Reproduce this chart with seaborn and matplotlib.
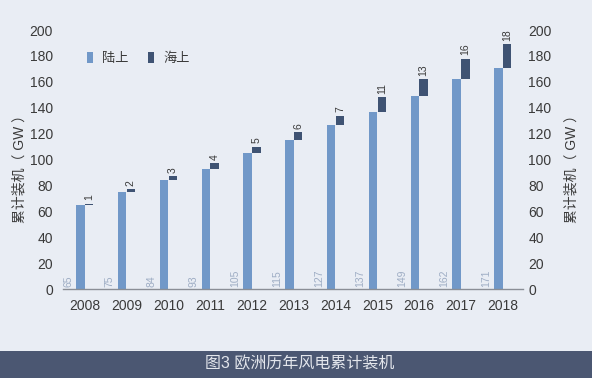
import numpy as np
import pandas as pd
import matplotlib
matplotlib.use("Agg")
import matplotlib.pyplot as plt
from matplotlib.patches import Patch, Rectangle
import seaborn as sns

years = [2008, 2009, 2010, 2011, 2012, 2013, 2014, 2015, 2016, 2017, 2018]
onshore = [65, 75, 84, 93, 105, 115, 127, 137, 149, 162, 171]
offshore = [1, 2, 3, 4, 5, 6, 7, 11, 13, 16, 18]
yticks = [0, 20, 40, 60, 80, 100, 120, 140, 160, 180, 200]
legend_labels = ["陆上", "海上"]
ylabel = "累计装机（ GW ）"
caption = "图3 欧洲历年风电累计装机"

BG = "#e9edf4"
ON = "#7198c8"
OFF = "#3f5373"
TXT = "#3a3a3a"

sns.set_theme(style="white")
plt.rcParams["font.family"] = ["Liberation Sans", "Noto Sans CJK SC", "DejaVu Sans"]

fig = plt.figure(figsize=(5.92, 3.78), dpi=100, facecolor=BG)
ax = fig.add_axes([0.106, 0.2354, 0.777, 0.685])
ax.set_facecolor(BG)

yr = np.array(years, dtype=float)
df_on = pd.DataFrame({"x": yr - 0.105, "value": onshore})
sns.barplot(data=df_on, x="x", y="value", native_scale=True, color=ON,
            width=0.2, saturation=1, ax=ax, linewidth=0)
ax.bar(yr + 0.105, offshore, bottom=onshore, width=0.2, color=OFF, linewidth=0)

ax.set_xlim(years[0] - 0.526, years[-1] + 0.478)
ax.set_ylim(0, 200)
ax.set_xticks(years)
ax.set_xticklabels([str(y) for y in years], fontsize=10, color=TXT)
ax.set_yticks(yticks)
ax.set_yticklabels([str(t) for t in yticks], fontsize=10, color=TXT)
ax.tick_params(axis="x", length=0, pad=7)
ax.tick_params(axis="y", length=0, pad=7)
ax.set_xlabel("")
ax.set_ylabel("")
for s in ["top", "right", "left"]:
    ax.spines[s].set_visible(False)
ax.spines["bottom"].set_color("#8a8e96")
ax.spines["bottom"].set_linewidth(1.0)

ax2 = ax.twinx()
ax2.set_ylim(0, 200)
ax2.set_yticks(yticks)
ax2.set_yticklabels([str(t) for t in yticks], fontsize=10, color=TXT)
ax2.tick_params(axis="y", length=0, pad=4)
for s in ["top", "right", "left", "bottom"]:
    ax2.spines[s].set_visible(False)

fig.text(20 / 592, 1 - 166 / 378, ylabel, rotation=90, ha="center", va="center",
         fontsize=10, color=TXT)
fig.text(572 / 592, 1 - 166 / 378, ylabel, rotation=90, ha="center", va="center",
         fontsize=10, color=TXT)

for x, on, off in zip(yr, onshore, offshore):
    ax.text(x - 0.4, 1.5, str(on), rotation=90, ha="center", va="bottom",
            fontsize=7.5, color="#9eadc4")
    ax.text(x + 0.105, on + off + 2.5, str(off), rotation=90, ha="center",
            va="bottom", fontsize=7.5, color=TXT)

handles = [Patch(facecolor=ON, edgecolor="none"), Patch(facecolor=OFF, edgecolor="none")]
leg = ax.legend(handles, legend_labels, loc="upper left", bbox_to_anchor=(0.027, 0.96),
                ncol=2, frameon=False, fontsize=9.5, handlelength=0.45,
                handleheight=0.9, handletextpad=0.7, columnspacing=1.45)
for t in leg.get_texts():
    t.set_color(TXT)

fig.patches.append(Rectangle((0, 0), 1, 27 / 378, transform=fig.transFigure,
                             facecolor="#4b5772", edgecolor="none", zorder=0))
fig.text(0.507, 0.037, caption, ha="center", va="center", fontsize=11.5,
         color="#e3e6ec")

fig.savefig("out.png", dpi=100, facecolor=BG)
